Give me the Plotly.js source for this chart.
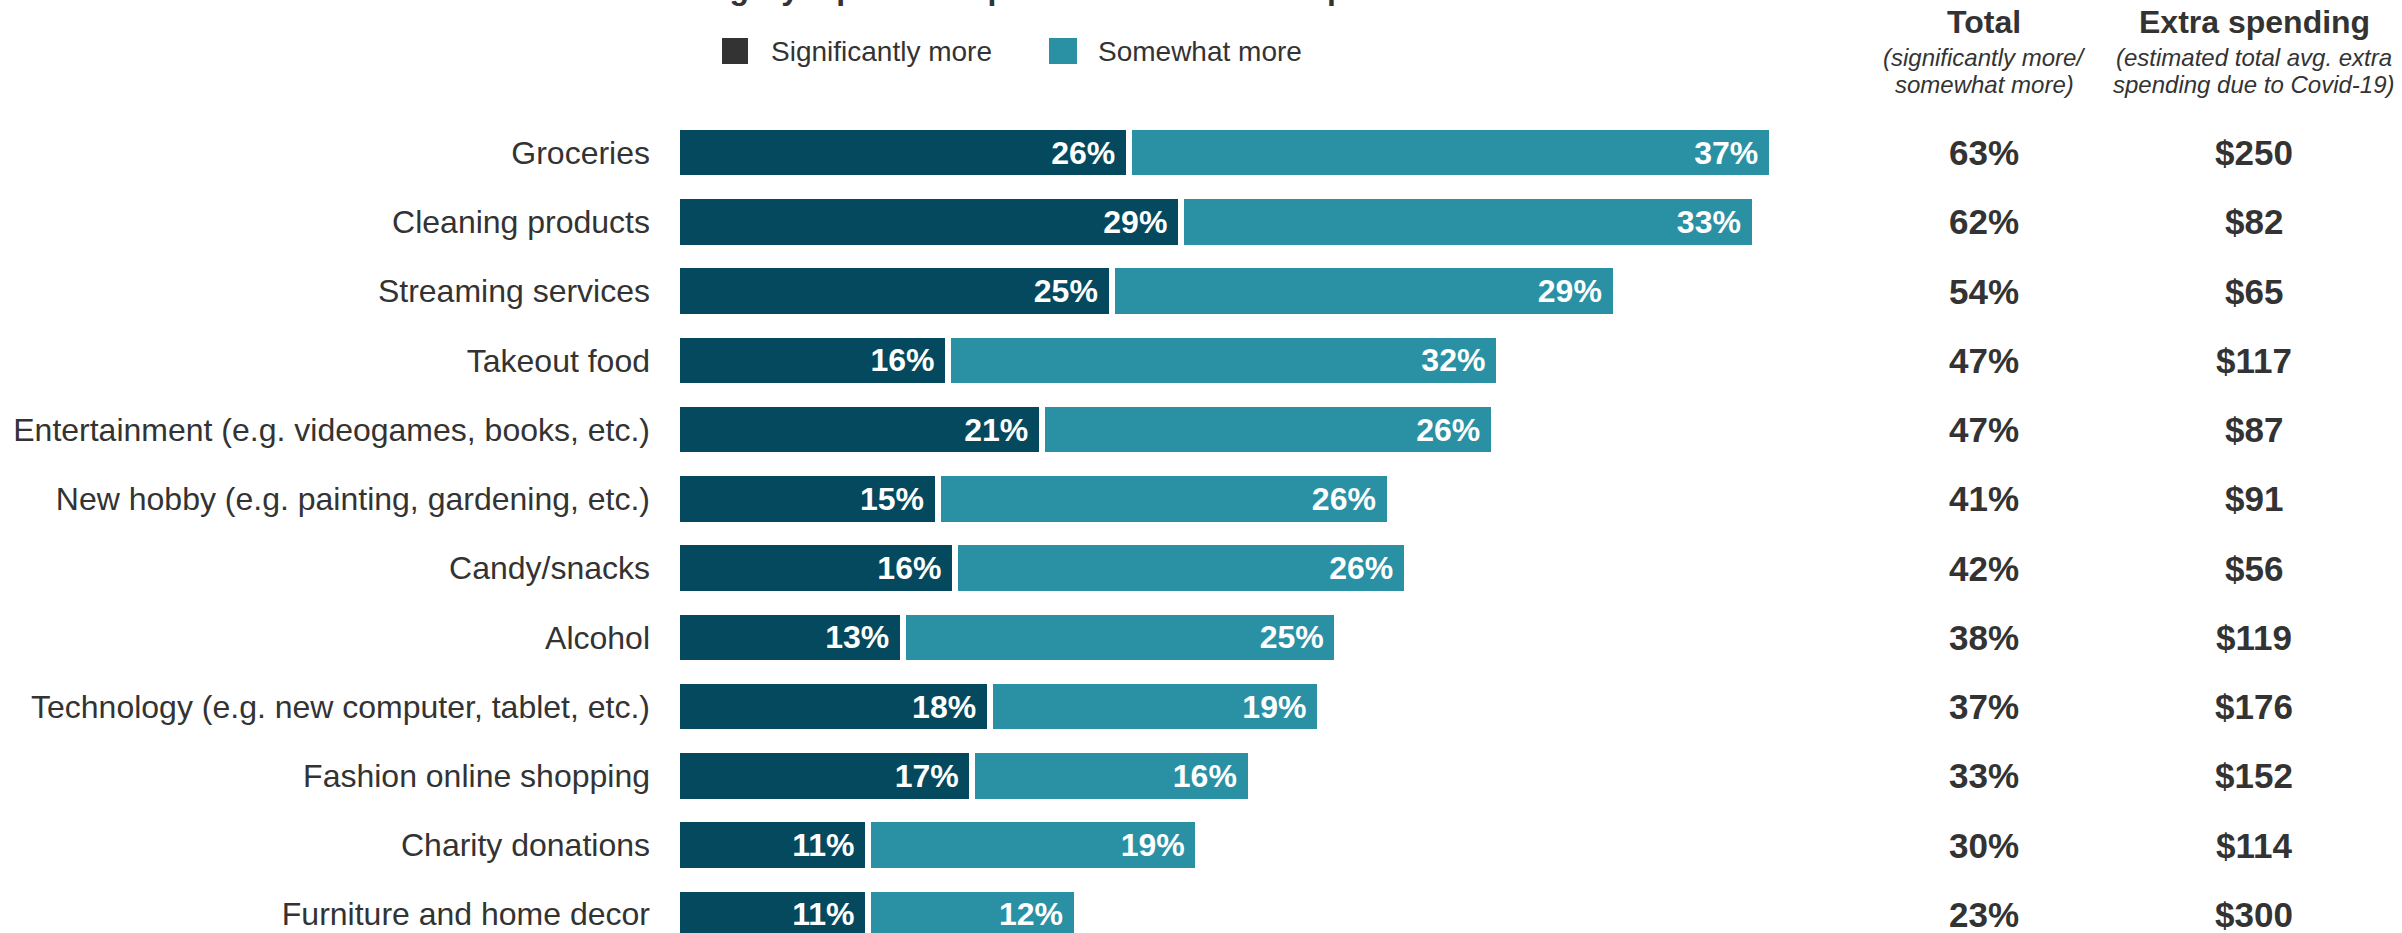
<!DOCTYPE html>
<html>
<head>
<meta charset="utf-8">
<script src="https://cdn.plot.ly/plotly-3.0.1.min.js"></script>
<style>html,body{margin:0;padding:0;background:#fff;}#chart{width:2402px;height:933px;}</style>
</head>
<body>
<div id="chart"></div>
<script>
const categories = [
  "Groceries",
  "Cleaning products",
  "Streaming services",
  "Takeout food",
  "Entertainment (e.g. videogames, books, etc.)",
  "New hobby (e.g. painting, gardening, etc.)",
  "Candy/snacks",
  "Alcohol",
  "Technology (e.g. new computer, tablet, etc.)",
  "Fashion online shopping",
  "Charity donations",
  "Furniture and home decor"
];
const significantlyMore = [26, 29, 25, 15.6, 21, 15, 16, 13, 18, 17, 11, 11];
const somewhatMore      = [37, 33, 29, 31.7, 26, 26, 26, 25, 19, 16, 19, 12];
const totalLabels = ["63%", "62%", "54%", "47%", "47%", "41%", "42%", "38%", "37%", "33%", "30%", "23%"];
const extraSpending = ["$250", "$82", "$65", "$117", "$87", "$91", "$56", "$119", "$176", "$152", "$114", "$300"];
const seriesNames = ["Significantly more", "Somewhat more"];
const titleText = "Extra amount in each category: spend compared to before Covid pandemic";

const FONT = "Liberation Sans, Arial, sans-serif";
const DARK = "#04495e";
const TEAL = "#2a91a5";
const TXT = "#333333";

const W = 2402, H = 933, ML = 677, MT = 118;
const plotW = W - ML, plotH = H - MT;
const pxPerUnit = 17.38;
const px2paperX = px => (px - ML) / plotW;
const px2paperY = py => (H - py) / plotH;

const barCommon = {
  type: "bar", orientation: "h", y: categories,
  textposition: "inside", insidetextanchor: "end", constraintext: "none",
  texttemplate: "%{x:.0f}%\u2004",
  textfont: {family: FONT, size: 32, color: "#ffffff", weight: "bold"},
  hoverinfo: "skip", showlegend: false
};
const traces = [
  Object.assign({}, barCommon, {name: seriesNames[0], x: significantlyMore,
    marker: {color: DARK, line: {color: "#ffffff", width: 6}}}),
  Object.assign({}, barCommon, {name: seriesNames[1], x: somewhatMore,
    marker: {color: TEAL, line: {color: "#ffffff", width: 6}}})
];

const annotations = [];
const colTotalX = px2paperX(1984), colExtraX = px2paperX(2254);
const valFont = {family: FONT, size: 35, color: TXT, weight: "bold"};
categories.forEach((c, i) => {
  annotations.push({xref: "paper", yref: "y", x: colTotalX, y: c, text: totalLabels[i], showarrow: false,
    xanchor: "center", yanchor: "middle", font: valFont});
  annotations.push({xref: "paper", yref: "y", x: colExtraX, y: c, text: extraSpending[i], showarrow: false,
    xanchor: "center", yanchor: "middle", font: valFont});
});
// column headers
const headFont = {family: FONT, size: 32, color: TXT, weight: "bold"};
const subFont = {family: FONT, size: 24, color: TXT, style: "italic"};
annotations.push({xref: "paper", yref: "paper", x: colTotalX, y: px2paperY(22), text: "Total", showarrow: false,
  xanchor: "center", yanchor: "middle", font: headFont});
annotations.push({xref: "paper", yref: "paper", x: colExtraX, y: px2paperY(22), text: "Extra spending", showarrow: false,
  xanchor: "center", yanchor: "middle", font: headFont});
annotations.push({xref: "paper", yref: "paper", x: colTotalX, y: px2paperY(58), text: "(significantly more/", showarrow: false,
  xanchor: "center", yanchor: "middle", font: subFont});
annotations.push({xref: "paper", yref: "paper", x: colTotalX, y: px2paperY(84), text: "somewhat more)", showarrow: false,
  xanchor: "center", yanchor: "middle", font: subFont});
annotations.push({xref: "paper", yref: "paper", x: colExtraX, y: px2paperY(58), text: "(estimated total avg. extra", showarrow: false,
  xanchor: "center", yanchor: "middle", font: subFont});
annotations.push({xref: "paper", yref: "paper", x: colExtraX, y: px2paperY(84), text: "spending due to Covid-19)", showarrow: false,
  xanchor: "center", yanchor: "middle", font: subFont});
// legend labels
const legFont = {family: FONT, size: 28, color: TXT};
annotations.push({xref: "paper", yref: "paper", x: px2paperX(769), y: px2paperY(51), text: seriesNames[0], showarrow: false,
  xanchor: "left", yanchor: "middle", font: legFont});
annotations.push({xref: "paper", yref: "paper", x: px2paperX(1096), y: px2paperY(51), text: seriesNames[1], showarrow: false,
  xanchor: "left", yanchor: "middle", font: legFont});
// title, cropped by the top edge as in the source image
annotations.push({xref: "paper", yref: "paper", x: px2paperX(331), y: px2paperY(-12), text: titleText, showarrow: false,
  xanchor: "left", yanchor: "middle", font: {family: FONT, size: 32, color: TXT, weight: "bold"}});

const shapes = [
  {type: "rect", xref: "paper", yref: "paper", x0: px2paperX(722), x1: px2paperX(748), y0: px2paperY(64), y1: px2paperY(38),
    fillcolor: "#333333", line: {width: 0}},
  {type: "rect", xref: "paper", yref: "paper", x0: px2paperX(1049), x1: px2paperX(1077), y0: px2paperY(64), y1: px2paperY(38),
    fillcolor: TEAL, line: {width: 0}}
];

const layout = {
  width: W, height: H,
  margin: {l: ML, r: 0, t: MT, b: 0, pad: 0},
  paper_bgcolor: "#ffffff", plot_bgcolor: "#ffffff",
  barmode: "stack", bargap: 0.256,
  showlegend: false,
  xaxis: {range: [0, plotW / pxPerUnit], visible: false, fixedrange: true},
  yaxis: {type: "category", categoryorder: "array", categoryarray: categories,
    range: [11 + (H - 914.25) / 69.25, -0.5],
    showgrid: false, zeroline: false, showline: false, ticks: "",
    ticklabelstandoff: 26,
    tickfont: {family: FONT, size: 32, color: TXT}, fixedrange: true},
  annotations: annotations,
  shapes: shapes,
  font: {family: FONT, color: TXT}
};

Plotly.newPlot("chart", traces, layout, {displayModeBar: false, staticPlot: true});
</script>
</body>
</html>
